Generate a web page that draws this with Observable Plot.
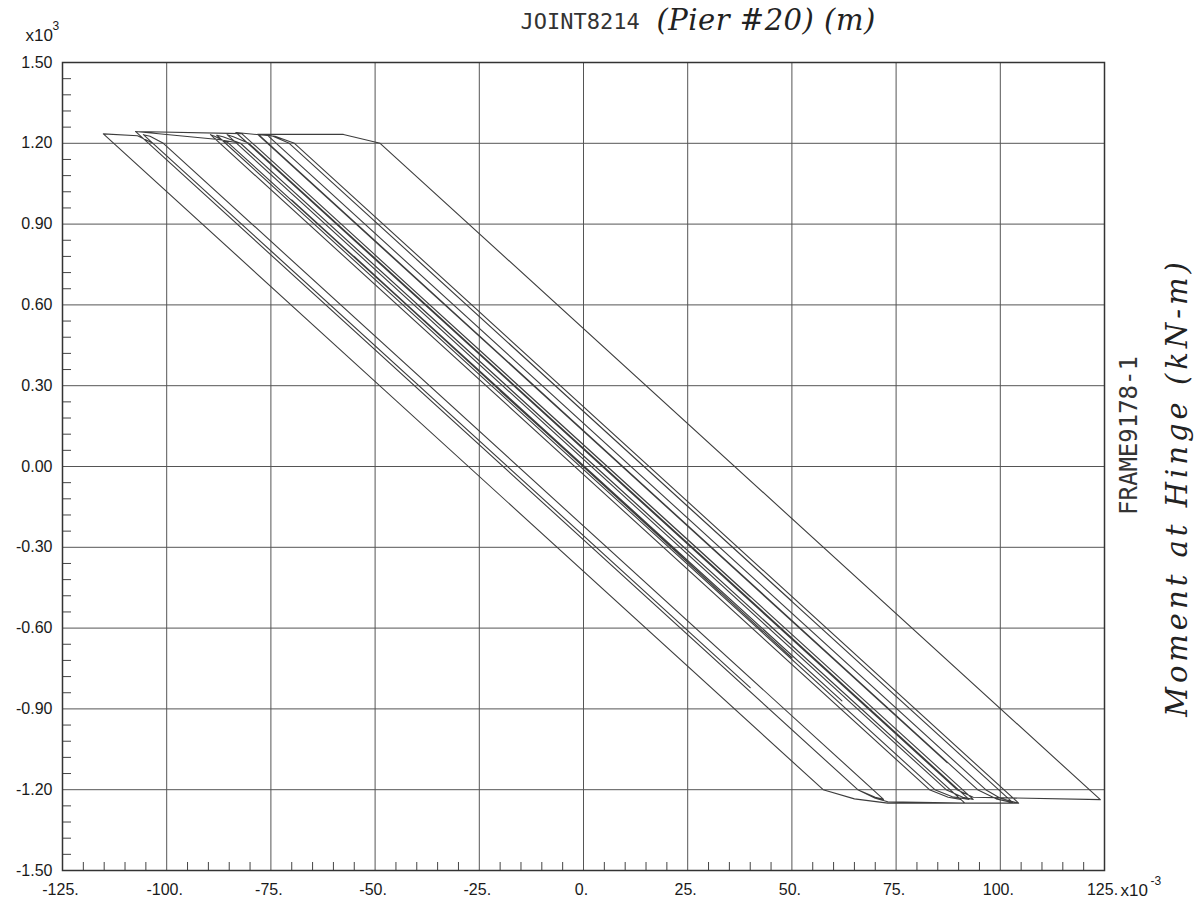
<!DOCTYPE html>
<html><head><meta charset="utf-8">
<script src="https://cdn.jsdelivr.net/npm/d3@7"></script>
<script src="https://cdn.jsdelivr.net/npm/@observablehq/plot@0.6"></script>
<style>
html,body{margin:0;padding:0;background:#fff;}
#chart{width:1199px;height:900px;}
</style></head><body><div id="chart"></div>
<script>
// Hinge rotation (x10^-3 rad) and moment (x10^3 kN-m), path of the hysteresis history
const rotation = [
  0, -20, 15, -38, 33, -55, 50, -70, 62,
  -85.1, -88.5, -89.5,
  83.0, 87.5, 90.5,
  -40, 30,
  -82.3, -86.5, -88,
  84.3, 88.5, 92.5,
  -60, 45,
  -80.3, -84, -85.5,
  87.0, 91, 93.5,
  -50, 40,
  -79.4, -82, -107.5,
  65.8, 70, 73, 91.5,
  -82.25, -87.6, -107.5,
  65.8, 70, 72,
  -100.8, -104, -105.6,
  40,
  -103.3, -107, -115.2,
  57.5, 65, 73, 104.4,
  -69.35, -74, -78,
  94.55, 99, 103,
  -40, 50,
  -70.6, -74.5, -76,
  96.5, 100, 104.4,
  -69.35, -74, -83.4,
  89.6, 93.5, 124,
  -48.8, -57.6, -78.2,
  87.3
];
const moment = [
  0, 0.28, -0.21, 0.54, -0.47, 0.78, -0.71, 0.99, -0.87,
  1.20, 1.226, 1.232,
  -1.20, -1.228, -1.236,
  0.603, -0.383,
  1.20, 1.224, 1.23,
  -1.20, -1.226, -1.236,
  0.914, -0.567,
  1.20, 1.224, 1.232,
  -1.20, -1.228, -1.236,
  0.785, -0.484,
  1.20, 1.236, 1.244,
  -1.20, -1.232, -1.245, -1.25,
  1.20, 1.214, 1.244,
  -1.20, -1.228, -1.236,
  1.20, 1.226, 1.232,
  -0.821,
  1.20, 1.228, 1.235,
  -1.20, -1.234, -1.25, -1.25,
  1.20, 1.226, 1.233,
  -1.20, -1.234, -1.248,
  0.768, -0.50,
  1.20, 1.226, 1.232,
  -1.20, -1.232, -1.25,
  1.20, 1.226, 1.24,
  -1.20, -1.228, -1.237,
  1.20, 1.233, 1.233,
  -1.10
];
const xTicks = [-125, -100, -75, -50, -25, 0, 25, 50, 75, 100, 125];
const yTicks = [-1.5, -1.2, -0.9, -0.6, -0.3, 0, 0.3, 0.6, 0.9, 1.2, 1.5];
const xTickLabels = ["-125.", "-100.", "-75.", "-50.", "-25.", "0.", "25.", "50.", "75.", "100.", "125."];
const yTickLabels = ["-1.50", "-1.20", "-0.90", "-0.60", "-0.30", "0.00", "0.30", "0.60", "0.90", "1.20", "1.50"];
const xMinor = d3.range(-120, 125, 5).filter(v => v % 25 !== 0);
const yMinor = d3.range(-144, 150, 6).filter(v => v % 30 !== 0).map(v => v / 100);

const points = rotation.map((x, i) => ({x, y: moment[i]}));
const xLabelOf = new Map(xTicks.map((t, i) => [t, xTickLabels[i]]));
const yLabelOf = new Map(yTicks.map((t, i) => [t, yTickLabels[i]]));

const chart = Plot.plot({
  width: 1199, height: 900,
  marginLeft: 62, marginRight: 95, marginTop: 62, marginBottom: 30,
  style: {fontFamily: "'Liberation Sans', Arial, sans-serif", fontSize: "16px", color: "#222", background: "#fff"},
  x: {domain: [-125, 125], label: null},
  y: {domain: [-1.5, 1.5], label: null},
  marks: [
    Plot.gridX(xTicks, {stroke: "#555", strokeOpacity: 1, strokeWidth: 1}),
    Plot.gridY(yTicks, {stroke: "#555", strokeOpacity: 1, strokeWidth: 1}),
    Plot.axisX(xMinor, {tickSize: -8, tickFormat: () => "", stroke: "#444", label: null}),
    Plot.axisY(yMinor, {tickSize: -9, tickFormat: () => "", stroke: "#444", label: null}),
    Plot.axisX(xTicks, {tickSize: 0, tickPadding: 13, tickFormat: d => xLabelOf.get(d), label: null, fill: "#1a1a1a", fontSize: 16, dx: -2}),
    Plot.axisY(yTicks, {tickSize: 0, tickPadding: 10, tickFormat: d => yLabelOf.get(d), label: null, fill: "#1a1a1a", fontSize: 16}),
    Plot.line(points, {x: "x", y: "y", stroke: "#3d3d3d", strokeWidth: 1.1}),
    Plot.frame({stroke: "#333", strokeWidth: 1.5}),
    Plot.text(["JOINT8214"], {frameAnchor: "top-left", dx: 458, dy: -41, textAnchor: "start", lineAnchor: "middle", fontFamily: "'DejaVu Sans Mono', monospace", fontSize: 22, fill: "#333"}),
    Plot.text(["(Pier #20) (m)"], {frameAnchor: "top-left", dx: 594, dy: -42, textAnchor: "start", lineAnchor: "middle", fontFamily: "'DejaVu Serif', serif", fontStyle: "italic", fontSize: 29, fill: "#222"}),
    Plot.text(["x10"], {frameAnchor: "top-left", dx: -37, dy: -27, textAnchor: "start", lineAnchor: "middle", fontSize: 17, fill: "#1a1a1a"}),
    Plot.text(["3"], {frameAnchor: "top-left", dx: -10, dy: -36, textAnchor: "start", lineAnchor: "middle", fontSize: 12, fill: "#1a1a1a"}),
    Plot.text(["x10"], {frameAnchor: "bottom-right", dx: 16, dy: 20, textAnchor: "start", lineAnchor: "middle", fontSize: 17, fill: "#1a1a1a"}),
    Plot.text(["-3"], {frameAnchor: "bottom-right", dx: 46, dy: 11, textAnchor: "start", lineAnchor: "middle", fontSize: 12, fill: "#1a1a1a"}),
    Plot.text(["FRAME9178-1"], {frameAnchor: "right", dx: 25, dy: -31, rotate: -90, textAnchor: "middle", lineAnchor: "middle", fontFamily: "'DejaVu Sans Mono', monospace", fontSize: 24, fill: "#333"}),
    Plot.text(["Moment at Hinge (kN-m)"], {frameAnchor: "right", dx: 73, dy: 21, rotate: -90, textAnchor: "middle", lineAnchor: "middle", fontFamily: "'DejaVu Serif', serif", fontStyle: "italic", fontSize: 29, fill: "#222"})
  ]
});
d3.select(chart).selectAll("text").each(function() {
  const t = this.textContent;
  if (t === "Moment at Hinge (kN-m)") d3.select(this).attr("letter-spacing", "4px");
  if (t === "(Pier #20) (m)") d3.select(this).attr("letter-spacing", "0.5px");
});
document.getElementById("chart").appendChild(chart);
</script>
</body></html>
